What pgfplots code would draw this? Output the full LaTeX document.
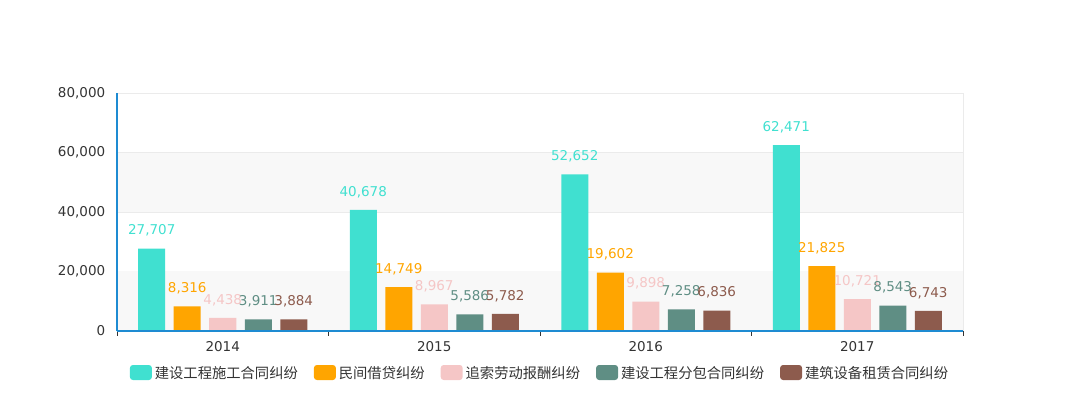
\documentclass[border=0pt]{standalone}
\usepackage{pgfplots}
\pgfplotsset{compat=1.18}
\usepackage{fontspec}
\setmainfont{DejaVu Sans}
\newfontfamily\cjk{Noto Sans CJK SC}
\definecolor{cA}{HTML}{40E0D0}
\definecolor{cB}{HTML}{FFA500}
\definecolor{cC}{HTML}{F5C6C6}
\definecolor{cD}{HTML}{5F8E84}
\definecolor{cE}{HTML}{8D5B4D}
\definecolor{axblue}{HTML}{1E8BD2}
\definecolor{band}{HTML}{F8F8F8}
\definecolor{gridc}{HTML}{EBEBEB}
\definecolor{txt}{HTML}{333333}
\begin{document}
\begin{tikzpicture}
\useasboundingbox (0pt,0pt) rectangle (1080pt,420pt);
\begin{axis}[
  at={(117pt,89pt)}, anchor=south west,
  scale only axis, width=846pt, height=238pt,
  xmin=-0.5, xmax=3.5, ymin=0, ymax=80000,
  ybar=8.5pt, bar width=27pt,
  axis x line*=bottom, axis y line*=left,
  x axis line style={axblue, line width=1.8pt, -},
  y axis line style={axblue, line width=1.8pt, -},
  xtick={0,1,2,3}, xticklabels={2014,2015,2016,2017},
  major x tick style={draw=none},
  minor xtick={-0.5,0.5,1.5,2.5,3.5},
  minor x tick style={draw=txt, line width=0.6pt},
  minor tick length=5pt,
  xtick pos=bottom, tick align=outside,
  ytick={0,20000,40000,60000,80000},
  major y tick style={draw=none},
  ymajorgrids, grid style={gridc, line width=0.6pt},
  /pgf/number format/1000 sep={,},
  /pgf/number format/assume math mode=true,
  scaled y ticks=false,
  tick label style={font=\fontsize{13.5}{16}\selectfont, text=txt},
  yticklabel style={xshift=-4pt},
  xticklabel style={yshift=-3pt},
  nodes near coords,
  every node near coord/.append style={font=\fontsize{13.5}{16}\selectfont, anchor=south, yshift=11pt, inner sep=1pt},
  legend columns=5,
  legend style={at={(0.5,-0.1765)}, anchor=center, draw=none, fill=none,
    font=\cjk\fontsize{14.3}{17}\selectfont, text=txt,
    /tikz/every even column/.append style={column sep=14pt},
    /tikz/every odd column/.append style={column sep=1pt}},
  legend image code/.code={\fill[#1, draw=none, rounded corners=3pt] (0pt,-7pt) rectangle (22pt,8pt);},
  clip=false,
]
\fill[band] (axis cs:-0.5,0) rectangle (axis cs:3.5,20000);
\fill[band] (axis cs:-0.5,40000) rectangle (axis cs:3.5,60000);
\draw[gridc, line width=0.6pt] (axis cs:3.5,0) -- (axis cs:3.5,80000);
\draw[gridc, line width=0.6pt] (axis cs:-0.5,80000) -- (axis cs:3.5,80000);
\addplot[fill=cA, draw=none, every node near coord/.append style={text=cA}] coordinates {(0,27707) (1,40678) (2,52652) (3,62471)};
\addplot[fill=cB, draw=none, every node near coord/.append style={text=cB}] coordinates {(0,8316) (1,14749) (2,19602) (3,21825)};
\addplot[fill=cC, draw=none, every node near coord/.append style={text=cC}] coordinates {(0,4438) (1,8967) (2,9898) (3,10721)};
\addplot[fill=cD, draw=none, every node near coord/.append style={text=cD}] coordinates {(0,3911) (1,5586) (2,7258) (3,8543)};
\addplot[fill=cE, draw=none, every node near coord/.append style={text=cE}] coordinates {(0,3884) (1,5782) (2,6836) (3,6743)};
\draw[axblue, line width=1.8pt] (axis cs:-0.5,0) -- (axis cs:-0.5,80000);
\draw[axblue, line width=1.8pt] (axis cs:-0.5,0) -- (axis cs:3.5,0);
\legend{建设工程施工合同纠纷,民间借贷纠纷,追索劳动报酬纠纷,建设工程分包合同纠纷,建筑设备租赁合同纠纷}
\end{axis}
\end{tikzpicture}
\end{document}
